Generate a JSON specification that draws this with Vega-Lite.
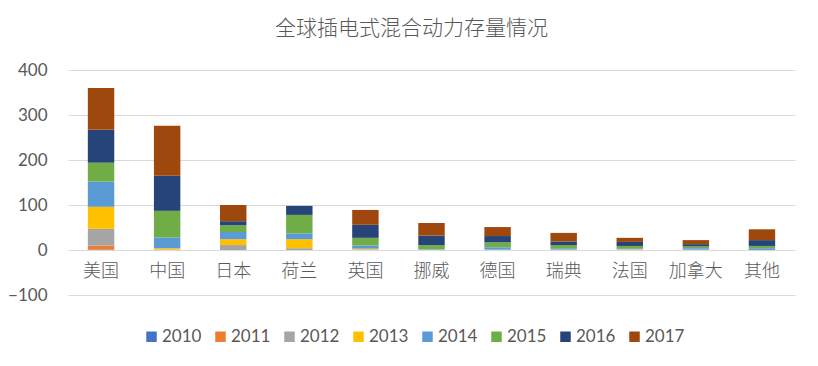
{
  "$schema": "https://vega.github.io/schema/vega-lite/v6.json",
  "width": 727,
  "height": 225,
  "autosize": {"type": "none"},
  "padding": {"left": 68, "top": 70, "right": 23, "bottom": 71},
  "background": "white",
  "title": {
    "text": "全球插电式混合动力存量情况",
    "font": "Noto Sans CJK SC",
    "fontSize": 21,
    "fontWeight": 300,
    "color": "#595959",
    "anchor": "middle",
    "dx": -20,
    "offset": 22
  },
  "data": {
    "values": [
      {"country": "美国", "year": "2010", "value": 1},
      {"country": "美国", "year": "2011", "value": 9},
      {"country": "美国", "year": "2012", "value": 37},
      {"country": "美国", "year": "2013", "value": 49},
      {"country": "美国", "year": "2014", "value": 56},
      {"country": "美国", "year": "2015", "value": 42},
      {"country": "美国", "year": "2016", "value": 73},
      {"country": "美国", "year": "2017", "value": 93},
      {"country": "中国", "year": "2012", "value": 1},
      {"country": "中国", "year": "2013", "value": 3},
      {"country": "中国", "year": "2014", "value": 24},
      {"country": "中国", "year": "2015", "value": 59},
      {"country": "中国", "year": "2016", "value": 78},
      {"country": "中国", "year": "2017", "value": 111},
      {"country": "日本", "year": "2012", "value": 11},
      {"country": "日本", "year": "2013", "value": 13},
      {"country": "日本", "year": "2014", "value": 16},
      {"country": "日本", "year": "2015", "value": 15},
      {"country": "日本", "year": "2016", "value": 9},
      {"country": "日本", "year": "2017", "value": 36},
      {"country": "荷兰", "year": "2012", "value": 4},
      {"country": "荷兰", "year": "2013", "value": 20},
      {"country": "荷兰", "year": "2014", "value": 13},
      {"country": "荷兰", "year": "2015", "value": 41},
      {"country": "荷兰", "year": "2016", "value": 20},
      {"country": "英国", "year": "2012", "value": 1},
      {"country": "英国", "year": "2013", "value": 2},
      {"country": "英国", "year": "2014", "value": 7},
      {"country": "英国", "year": "2015", "value": 17},
      {"country": "英国", "year": "2016", "value": 29},
      {"country": "英国", "year": "2017", "value": 33},
      {"country": "挪威", "year": "2012", "value": 1},
      {"country": "挪威", "year": "2014", "value": 1},
      {"country": "挪威", "year": "2015", "value": 9},
      {"country": "挪威", "year": "2016", "value": 21},
      {"country": "挪威", "year": "2017", "value": 28},
      {"country": "德国", "year": "2012", "value": 1},
      {"country": "德国", "year": "2014", "value": 5},
      {"country": "德国", "year": "2015", "value": 11},
      {"country": "德国", "year": "2016", "value": 14},
      {"country": "德国", "year": "2017", "value": 20},
      {"country": "瑞典", "year": "2013", "value": 1},
      {"country": "瑞典", "year": "2014", "value": 3},
      {"country": "瑞典", "year": "2015", "value": 7},
      {"country": "瑞典", "year": "2016", "value": 8},
      {"country": "瑞典", "year": "2017", "value": 19},
      {"country": "法国", "year": "2012", "value": 1},
      {"country": "法国", "year": "2013", "value": 1},
      {"country": "法国", "year": "2014", "value": 2},
      {"country": "法国", "year": "2015", "value": 5},
      {"country": "法国", "year": "2016", "value": 9},
      {"country": "法国", "year": "2017", "value": 9},
      {"country": "加拿大", "year": "2012", "value": 1},
      {"country": "加拿大", "year": "2014", "value": 3},
      {"country": "加拿大", "year": "2015", "value": 4},
      {"country": "加拿大", "year": "2016", "value": 5},
      {"country": "加拿大", "year": "2017", "value": 9},
      {"country": "其他", "year": "2014", "value": 4},
      {"country": "其他", "year": "2015", "value": 5},
      {"country": "其他", "year": "2016", "value": 13},
      {"country": "其他", "year": "2017", "value": 24}
    ]
  },
  "mark": {"type": "bar"},
  "encoding": {
    "x": {
      "field": "country",
      "type": "nominal",
      "sort": ["美国", "中国", "日本", "荷兰", "英国", "挪威", "德国", "瑞典", "法国", "加拿大", "其他"],
      "scale": {"paddingInner": 0.6, "paddingOuter": 0.3},
      "axis": {
        "title": null,
        "offset": -45,
        "domain": false,
        "ticks": false,
        "labelAngle": 0,
        "labelFont": "Noto Sans CJK SC",
        "labelFontSize": 18,
        "labelFontWeight": 300,
        "labelColor": "#595959",
        "labelPadding": 12
      }
    },
    "y": {
      "field": "value",
      "type": "quantitative",
      "aggregate": "sum",
      "stack": "zero",
      "scale": {"domain": [-100, 400], "nice": false},
      "axis": {
        "title": null,
        "values": [-100, 0, 100, 200, 300, 400],
        "domain": false,
        "ticks": false,
        "gridColor": "#d9d9d9",
        "gridWidth": 1,
        "labelFont": "Lato",
        "labelFontSize": 17,
        "labelColor": "#595959",
        "labelPadding": 21
      }
    },
    "color": {
      "field": "year",
      "type": "nominal",
      "scale": {
        "domain": ["2010", "2011", "2012", "2013", "2014", "2015", "2016", "2017"],
        "range": ["#4472C4", "#ED7D31", "#A5A5A5", "#FFC000", "#5B9BD5", "#70AD47", "#264478", "#9E480E"]
      },
      "legend": {
        "title": null,
        "orient": "none",
        "legendX": 75,
        "legendY": 258,
        "direction": "horizontal",
        "columns": 8,
        "symbolType": "square",
        "symbolSize": 110,
        "symbolStrokeWidth": 0,
        "labelFont": "Lato",
        "labelFontSize": 17,
        "labelColor": "#595959",
        "labelOffset": 2,
        "columnPadding": 10
      }
    },
    "order": {"field": "year", "type": "nominal", "sort": "ascending"}
  },
  "config": {
    "view": {"stroke": null}
  }
}
